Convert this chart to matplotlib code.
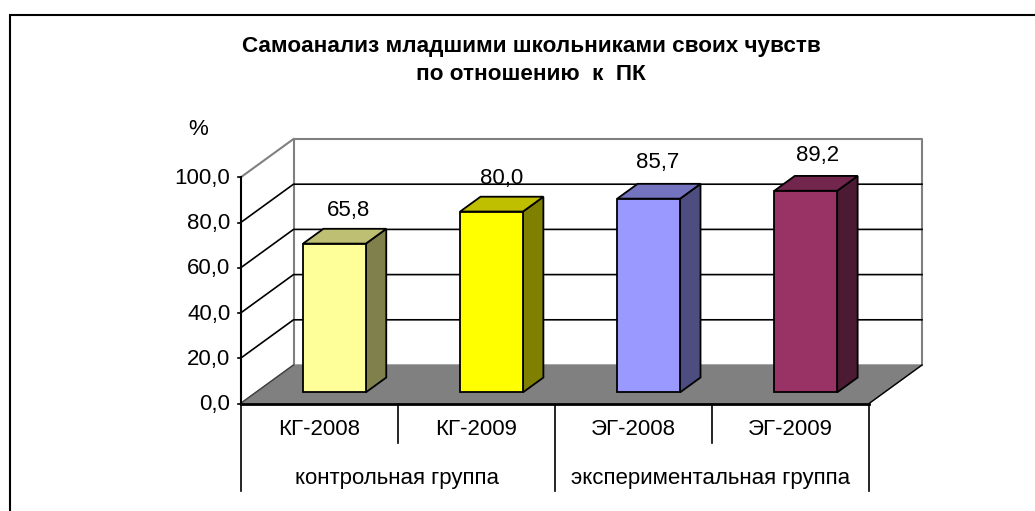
import matplotlib
matplotlib.use('Agg')
import matplotlib.pyplot as plt
from matplotlib.lines import Line2D
from matplotlib.patches import Polygon

plt.rcParams['font.family'] = ['Liberation Sans', 'DejaVu Sans']

W, H = 1035, 511

title = 'Самоанализ младшими школьниками своих чувств\nпо отношению  к  ПК'
categories = ['КГ-2008', 'КГ-2009', 'ЭГ-2008', 'ЭГ-2009']
groups = ['контрольная группа', 'экспериментальная группа']
values = [65.8, 80.0, 85.7, 89.2]
labels = ['65,8', '80,0', '85,7', '89,2']
yticks = [0, 20, 40, 60, 80, 100]
front_colors = ['#FFFF99', '#FFFF00', '#9999FF', '#993366']
top_colors = ['#BFBF73', '#BFBF00', '#7373BF', '#73264D']
side_colors = ['#80804D', '#808000', '#4D4D80', '#4D1A33']

# label offsets in pixels, the original placed them by hand
label_dx = [14, 10, 9, 12]
label_dy = [33, 33, 36, 35]

# front plane of the chart, in pixels of the picture
X0, X1, Y0, Y100 = 240.5, 869, 403.5, 177.5
DX, DY = 53.0, 38.5  # depth of the box in pixels
FS = 16


def offs(depth):
    """Shift in data units for a point at depth 0..1"""
    return depth * DX / ((X1 - X0) / 4), depth * DY / ((Y0 - Y100) / 100)


def pt(x, y, depth=0.0):
    ox, oy = offs(depth)
    return (x + ox, y + oy)


def box(ax, x_left, x_right, top, d0, d1, fc, tc, sc):
    """3D looking bar: front, top and side faces"""
    ax.add_patch(Polygon([pt(x_right, 0, d0), pt(x_right, 0, d1), pt(x_right, top, d1), pt(x_right, top, d0)],
                         fc=sc, ec='black', lw=1.3, zorder=3, clip_on=False))
    ax.add_patch(Polygon([pt(x_left, top, d0), pt(x_left, top, d1), pt(x_right, top, d1), pt(x_right, top, d0)],
                         fc=tc, ec='black', lw=1.3, zorder=3, clip_on=False))
    ax.add_patch(Polygon([pt(x_left, 0, d0), pt(x_right, 0, d0), pt(x_right, top, d0), pt(x_left, top, d0)],
                         fc=fc, ec='black', lw=1.3, zorder=4, clip_on=False))


fig = plt.figure(figsize=(W / 100, H / 100), dpi=100)
fig.patch.set_facecolor('white')

# outer frame, only left and top are inside the picture
fig.add_artist(Line2D([10 / W, 10 / W, 1], [0, 1 - 15 / H, 1 - 15 / H], transform=fig.transFigure,
                      color='black', lw=1.5, solid_joinstyle='miter'))

ax = fig.add_axes([X0 / W, 1 - Y0 / H, (X1 - X0) / W, (Y0 - Y100) / H])
ax.set_xlim(0, 4)
ax.set_ylim(0, 100)
ax.axis('off')

# floor
ax.add_patch(Polygon([pt(0, 0), pt(4, 0), pt(4, 0, 1), pt(0, 0, 1)], fc='#808080', ec='#808080', lw=1,
                     clip_on=False, zorder=1))

# walls
ax.plot(*zip(pt(0, 0, 1), pt(0, 100, 1), pt(4, 100, 1), pt(4, 0, 1)), color='#808080', lw=1.5, clip_on=False, zorder=1)
ax.plot(*zip(pt(0, 100), pt(0, 100, 1)), color='#808080', lw=1.5, clip_on=False, zorder=1)
ax.plot(*zip(pt(4, 0), pt(4, 0, 1)), color='black', lw=1, clip_on=False, zorder=2)

# gridlines
for t in yticks[1:-1]:
    ax.plot(*zip(pt(0, t), pt(0, t, 1), pt(4, t, 1)), color='black', lw=1.2, clip_on=False, zorder=2)

# axes lines and ticks
tick_len = 3 / ((X1 - X0) / 4)
ax.plot([0, 0], [0, 100], color='black', lw=1.5, clip_on=False, zorder=5)
ax.plot([0, 4], [0, 0], color='black', lw=2, clip_on=False, zorder=5)
ax.plot(*zip(pt(0, 0), pt(0, 0, 1)), color='#404040', lw=1, clip_on=False, zorder=2)
for t in yticks:
    ax.plot([-tick_len, 0], [t, t], color='black', lw=1.2, clip_on=False, zorder=5)
    ax.annotate(f'{t:.1f}'.replace('.', ','), (0, t), xytext=(-10, -1), textcoords='offset pixels',
                ha='right', va='center', fontsize=FS, annotation_clip=False)
ax.annotate('%', (0, 100), xytext=(-42, 48), textcoords='offset pixels', ha='center', va='center',
            fontsize=FS, annotation_clip=False)

# bars
for i, v in enumerate(values):
    left = i + 0.3
    right = i + 0.7
    box(ax, left, right, v, 0.29, 0.675, front_colors[i], top_colors[i], side_colors[i])
    x_lab, y_lab = pt(i + 0.5, v, 0.29)
    ax.annotate(labels[i], (x_lab, y_lab), xytext=(label_dx[i], label_dy[i]), textcoords='offset pixels',
                ha='center', va='center', fontsize=FS, zorder=6, annotation_clip=False)

# multi level category axis
for i in range(5):
    bottom = -87 if i % 2 == 0 else -39
    ax.plot([i, i], [0, bottom / ((Y0 - Y100) / 100)], color='black', lw=1.2, clip_on=False, zorder=5)
for i, c in enumerate(categories):
    ax.annotate(c, (i + 0.5, 0), xytext=(0, -26), textcoords='offset pixels', ha='center', va='center',
                fontsize=FS, annotation_clip=False)
for i, g in enumerate(groups):
    ax.annotate(g, (2 * i + 1, 0), xytext=(-1, -75), textcoords='offset pixels', ha='center', va='center',
                fontsize=FS, annotation_clip=False)

fig.text(531 / W, 1 - 60.5 / H, title, ha='center', va='center', fontsize=16.2, fontweight='bold', linespacing=1.39)

fig.savefig('out.png', dpi=100)
